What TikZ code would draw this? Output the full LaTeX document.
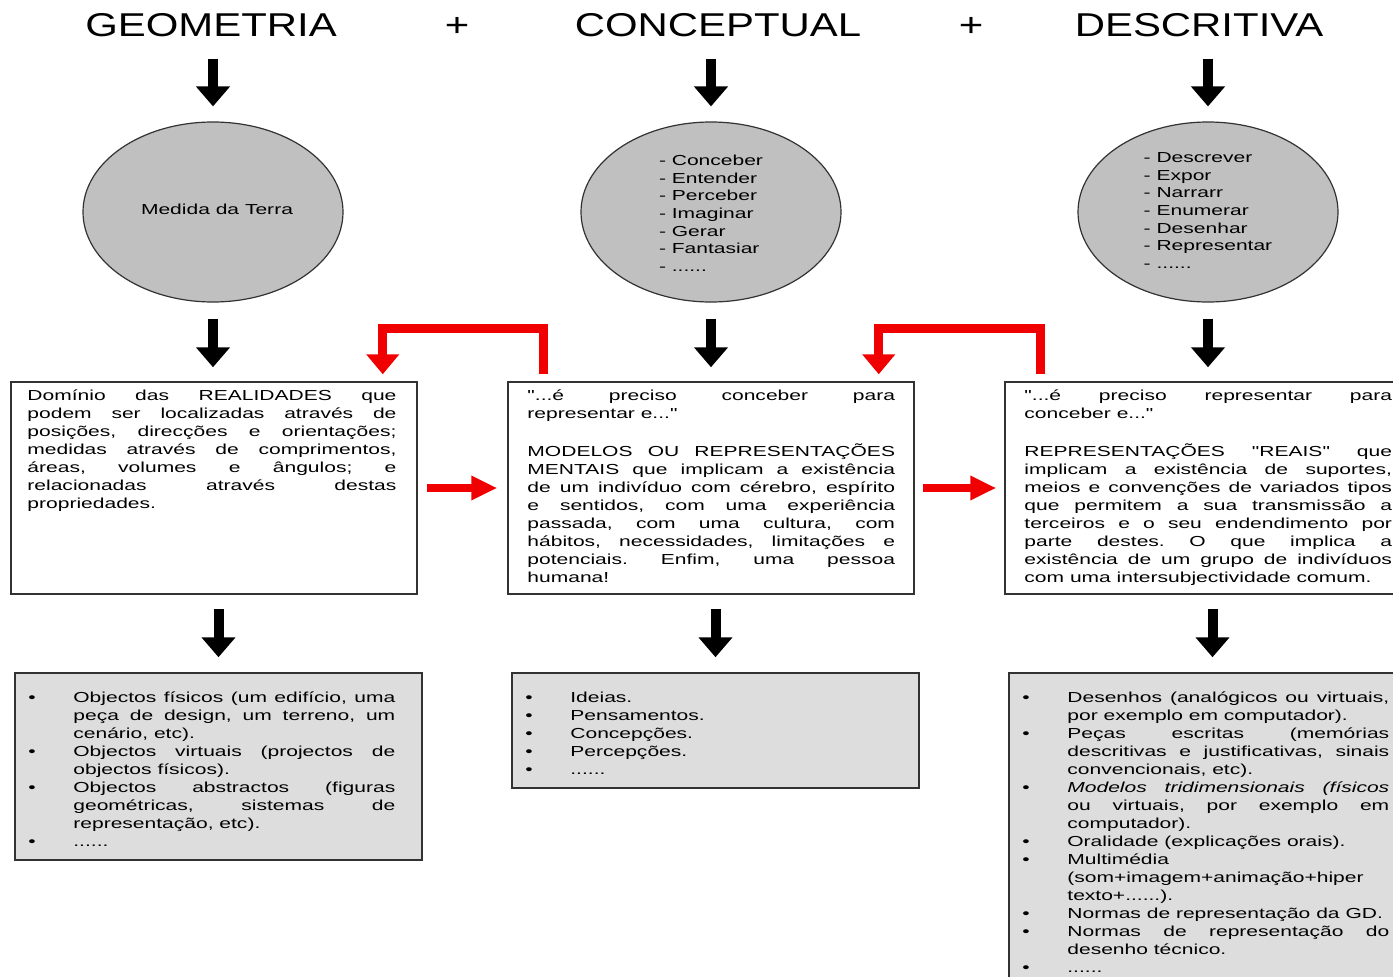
\documentclass[tikz,border=0pt]{standalone}
\usepackage{fontspec}
\setmainfont{Liberation Sans}
\newfontfamily\qf{Liberation Sans}
\usepackage{graphicx}
\usetikzlibrary{arrows.meta,shapes.geometric,calc}
\frenchspacing

\definecolor{cfill}{RGB}{192,192,192}
\definecolor{lfill}{RGB}{221,221,221}
\definecolor{bord}{RGB}{50,50,50}
\definecolor{rred}{RGB}{240,0,0}

\newcommand{\sx}[1]{\scalebox{1.45}[1]{#1}}
\newcommand{\tsx}[1]{\scalebox{1.27}[1]{#1}}
\newcommand{\bodyfont}{\fontsize{14.5}{18}\selectfont}
\newcommand{\q}{{\qf"}}
\newcommand{\jbox}[2]{\sx{\parbox[t]{#1}{\bodyfont\frenchspacing\tolerance=10000\hyphenpenalty=10000\exhyphenpenalty=10000 #2}}}
\newcommand{\itm}{\par\hangindent=31pt\hangafter=1\noindent\makebox[31pt][l]{\textbullet}}

\begin{document}
\begin{tikzpicture}[x=1pt,y=-1pt,
 title/.style={font=\fontsize{33}{40}\selectfont, inner sep=0pt, anchor=base},
 circ/.style={ellipse, draw=bord, line width=1.2pt, fill=cfill, minimum width=260pt, minimum height=180pt, inner sep=0pt, font=\fontsize{14.5}{17.7}\selectfont},
 tbox/.style={rectangle, draw=bord, line width=1.5pt, fill=white, minimum width=406pt, minimum height=212pt, inner sep=0pt},
 gbox/.style={rectangle, draw=bord, line width=1.5pt, fill=lfill, minimum width=407pt, inner sep=0pt},
 txt/.style={inner sep=0pt, anchor=base west},
 barrow/.style={draw=black, line width=10pt, -{Triangle[width=33pt,length=20pt]}},
 rbrack/.style={draw=rred, line width=9pt, line join=miter, -{Triangle[width=32pt,length=20pt]}},
 rharrow/.style={draw=rred, line width=8pt, -{Triangle[width=23pt,length=26pt]}}
]
\useasboundingbox (0,0) rectangle (1393,977);
\clip (0,0) rectangle (1393,977);
\fill[white] (0,0) rectangle (1393,977);

% titles
\node[title] (t1) at (211,36) {\tsx{GEOMETRIA}};
\node[title] (p1) at (457,36) {\tsx{+}};
\node[title] (t2) at (718,36) {\tsx{CONCEPTUAL}};
\node[title] (p2) at (971,36) {\tsx{+}};
\node[title] (t3) at (1199,36) {\tsx{DESCRITIVA}};

% circles
\node[circ] (c1) at (213,212) {\raisebox{3pt}[\height][\depth]{\hspace*{8pt}\sx{Medida da Terra}}};
\node[circ] (c2) at (711,212) {\raisebox{-3pt}[\height][\depth]{\sx{\begin{tabular}{@{}l@{}}- Conceber\\ - Entender\\ - Perceber\\ - Imaginar\\ - Gerar\\ - Fantasiar\\ - ......\end{tabular}}}};
\node[circ] (c3) at (1208,212) {\sx{\begin{tabular}{@{}l@{}}- Descrever\\ - Expor\\ - Narrarr\\ - Enumerar\\ - Desenhar\\ - Representar\\ - ......\end{tabular}}};

% boxes
\node[tbox] (b1) at (214,488) {};
\node[tbox] (b2) at (711,488) {};
\node[tbox] (b3) at (1208,488) {};
\node[gbox, minimum height=187pt] (d1) at (218.5,766.5) {};
\node[gbox, minimum height=115pt] (d2) at (715.5,730.5) {};
\node[gbox, minimum height=330pt] (d3) at (1212.5,838) {};

% box texts
\node[txt] (b1t) at ($(b1.north west)+(17,19)$) {\jbox{254.5pt}{Domínio das REALIDADES que\linebreak podem ser localizadas através de\linebreak posições, direcções e orientações;\linebreak medidas através de comprimentos,\linebreak áreas, volumes e ângulos; e\linebreak relacionadas através destas\linebreak propriedades.}};

\node[txt] (b2t) at ($(b2.north west)+(20,19)$) {\jbox{253.5pt}{\q...é preciso conceber para\linebreak representar e...\q\par\vspace{20pt}MODELOS OU REPRESENTAÇÕES\linebreak MENTAIS que implicam a existência\linebreak de um indivíduo com cérebro, espírito\linebreak e sentidos, com uma experiência\linebreak passada, com uma cultura, com\linebreak hábitos, necessidades, limitações e\linebreak potenciais. Enfim, uma pessoa\linebreak humana!}};

\node[txt] (b3t) at ($(b3.north west)+(20,19)$) {\jbox{253.5pt}{\q...é preciso representar para\linebreak conceber e...\q\par\vspace{20pt}REPRESENTAÇÕES \q REAIS\q{} que\linebreak implicam a existência de suportes,\linebreak meios e convenções de variados tipos\linebreak que permitem a sua transmissão a\linebreak terceiros e o seu endendimento por\linebreak parte destes. O que implica a\linebreak existência de um grupo de indivíduos\linebreak com uma intersubjectividade comum.}};

\node[txt] (d1t) at ($(d1.north west)+(14,30)$) {\jbox{253pt}{\itm Objectos físicos (um edifício, uma\linebreak peça de design, um terreno, um\linebreak cenário, etc).\itm Objectos virtuais (projectos de\linebreak objectos físicos).\itm Objectos abstractos (figuras\linebreak geométricas, sistemas de\linebreak representação, etc).\itm ......}};

\node[txt] (d2t) at ($(d2.north west)+(14,30)$) {\jbox{253pt}{\itm Ideias.\itm Pensamentos.\itm Concepções.\itm Percepções.\itm ......}};

\node[txt] (d3t) at ($(d3.north west)+(14,30)$) {\jbox{253pt}{\itm Desenhos (analógicos ou virtuais,\linebreak por exemplo em computador).\itm Peças escritas (memórias\linebreak descritivas e justificativas, sinais\linebreak convencionais, etc).\itm \textit{Modelos tridimensionais (físicos}\linebreak ou virtuais, por exemplo em\linebreak computador).\itm Oralidade (explicações orais).\itm Multimédia\linebreak (som+imagem+animação+hiper\linebreak texto+......).\itm Normas de representação da GD.\itm Normas de representação do\linebreak desenho técnico.\itm ......}};

% black arrows
\draw[barrow, shorten <=22pt, shorten >=15pt] (c1.north |- t1.south) -- (c1.north);
\draw[barrow, shorten <=22pt, shorten >=15pt] (c2.north |- t2.south) -- (c2.north);
\draw[barrow, shorten <=22pt, shorten >=15pt] (c3.north |- t3.south) -- (c3.north);
\draw[barrow, shorten <=16pt, shorten >=14pt] (c1.south) -- (c1.south |- b1.north);
\draw[barrow, shorten <=16pt, shorten >=14pt] (c2.south) -- (c2.south |- b2.north);
\draw[barrow, shorten <=16pt, shorten >=14pt] (c3.south) -- (c3.south |- b3.north);
\draw[barrow, shorten <=14pt, shorten >=15pt] (d1.north |- b1.south) -- (d1.north);
\draw[barrow, shorten <=14pt, shorten >=15pt] (d2.north |- b2.south) -- (d2.north);
\draw[barrow, shorten <=14pt, shorten >=15pt] (d3.north |- b3.south) -- (d3.north);

% red arrows
\draw[rharrow, shorten <=9pt, shorten >=10pt] (b1.east) -- (b2.west);
\draw[rharrow, shorten <=8pt, shorten >=8pt] (b2.east) -- (b3.west);
\draw[rbrack] ($(b2.north west)+(36,-7)$) |- ($(b1.north east)+(-35,-53)$) -- ($(b1.north east)+(-35,-7)$);
\draw[rbrack] ($(b3.north west)+(36,-7)$) |- ($(b2.north east)+(-36,-53)$) -- ($(b2.north east)+(-36,-7)$);
\end{tikzpicture}
\end{document}
